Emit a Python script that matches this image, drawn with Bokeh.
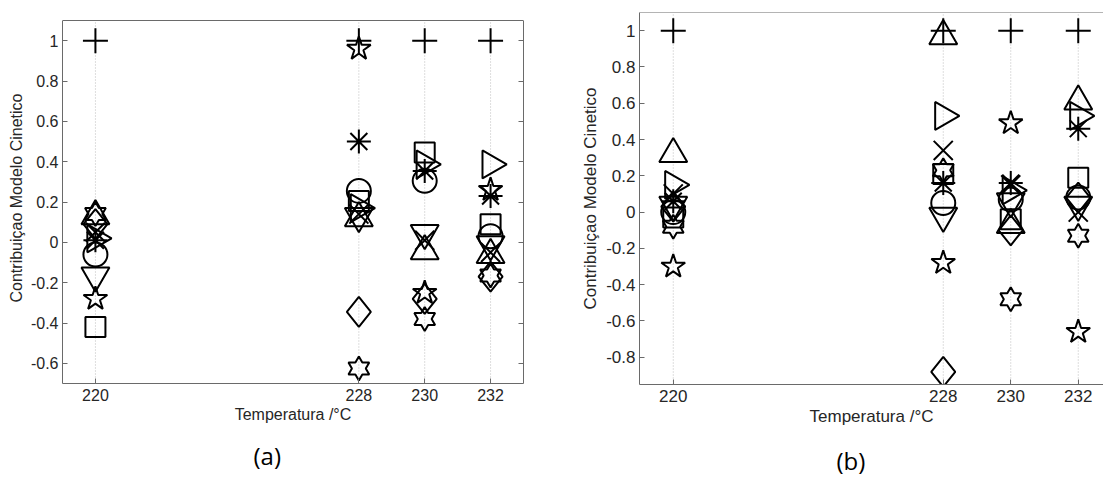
import math

from bokeh.embed import file_html
from bokeh.layouts import row
from bokeh.models import FixedTicker, LinearAxis, Range1d, Span, Title
from bokeh.plotting import figure
from bokeh.resources import INLINE

# ---------------------------------------------------------------- data
temperatures = [220, 228, 230, 232]
x_ticks = [220, 228, 230, 232]

# panel (a)
plus_a = [1.0, 1.0, 1.0, 1.0]
circle_a = [-0.06, 0.255, 0.305, 0.03]
asterisk_a = [0.01, 0.50, 0.354, 0.23]
x_mark_a = [0.05, 0.14, 0.01, -0.05]
square_a = [-0.42, 0.205, 0.445, 0.09]
diamond_a = [0.09, -0.345, -0.28, -0.17]
tri_up_a = [0.13, 0.12, -0.044, -0.063]
tri_down_a = [-0.165, 0.13, 0.046, -0.01]
tri_right_a = [0.02, 0.17, 0.386, 0.386]
pentagram_a = [-0.28, 0.96, -0.25, 0.26]
hexagram_a = [0.14, -0.625, -0.38, -0.165]

y_ticks_a = [-0.6, -0.4, -0.2, 0, 0.2, 0.4, 0.6, 0.8, 1]
y_labels_a = ["-0.6", "-0.4", "-0.2", "0", "0.2", "0.4", "0.6", "0.8", "1"]

# panel (b)
plus_b = [1.0, 1.0, 1.0, 1.0]
circle_b = [0.0, 0.05, 0.07, 0.08]
asterisk_b = [0.06, 0.16, 0.16, 0.46]
x_mark_b = [0.10, 0.34, 0.15, 0.0]
square_b = [-0.03, 0.21, -0.04, 0.19]
diamond_b = [0.03, -0.88, -0.10, 0.08]
tri_up_b = [0.32, 0.97, -0.07, 0.61]
tri_down_b = [0.04, -0.02, 0.06, 0.04]
tri_right_b = [0.15, 0.53, 0.12, 0.53]
pentagram_b = [-0.30, -0.28, 0.49, -0.66]
hexagram_b = [-0.08, 0.23, -0.48, -0.13]

y_ticks_b = [-0.8, -0.6, -0.4, -0.2, 0, 0.2, 0.4, 0.6, 0.8, 1]
y_labels_b = ["-0.8", "-0.6", "-0.4", "-0.2", "0", "0.2", "0.4", "0.6", "0.8", "1"]

# ---------------------------------------------------------------- style
FONT = "Liberation Sans"
CAPTION_FONT = "Open Sans"
AXIS_GRAY = "#6a6a6a"
GRID_GRAY = "#bcbcbc"
TEXT = "#262626"
INK = "black"
LW = 2
BOX_TOP = 1.1          # upper edge of both axes boxes


def polygon_marker(xc, yc, sx, sy, radii, start=math.pi / 2):
    """Outline of a marker centred on (xc, yc); radii are in screen pixels."""
    n = len(radii)
    xs, ys = [], []
    for k, r in enumerate(radii):
        t = start + 2 * math.pi * k / n
        xs.append(xc + r * math.cos(t) / sx)
        ys.append(yc + r * math.sin(t) / sy)
    return xs, ys


def style_axis(ax, font_px):
    ax.axis_line_color = AXIS_GRAY
    ax.major_tick_line_color = AXIS_GRAY
    ax.major_tick_in = 5
    ax.major_tick_out = 0
    ax.minor_tick_line_color = None
    ax.major_label_text_font = FONT
    ax.major_label_text_font_size = f"{font_px}px"
    ax.major_label_text_color = TEXT
    ax.axis_label_text_font = FONT
    ax.axis_label_text_font_size = f"{font_px}px"
    ax.axis_label_text_font_style = "normal"
    ax.axis_label_text_color = TEXT


def panel(series, y_ticks, y_labels, x_rng, y_rng, frame_w, frame_h,
          borders, caption, caption_left, caption_gap, font_px, boxed):
    left, right, top, bottom = borders
    p = figure(
        title=None,
        frame_width=frame_w,
        frame_height=frame_h,
        x_range=Range1d(*x_rng),
        y_range=Range1d(*y_rng),
        min_border_left=left,
        min_border_right=right,
        min_border_top=top,
        min_border_bottom=bottom,
        output_backend="svg",
        toolbar_location=None,
        x_axis_label="Temperatura /°C",
        y_axis_label="Contribuiçao Modelo Cinetico",
        background_fill_color="white",
        border_fill_color="white",
    )
    p.outline_line_color = None

    for ax in list(p.xaxis) + list(p.yaxis):
        style_axis(ax, font_px)
    p.xaxis.ticker = FixedTicker(ticks=x_ticks)
    p.yaxis.ticker = FixedTicker(ticks=y_ticks)
    p.yaxis.major_label_overrides = dict(zip(y_ticks, y_labels))
    p.yaxis.bounds = (y_rng[0], BOX_TOP)
    p.xaxis.major_label_standoff = 5
    p.xaxis.axis_label_standoff = 2
    p.yaxis.major_label_standoff = 4
    p.yaxis.axis_label_standoff = 3

    # dotted vertical guides at the temperatures, up to the top of the box
    p.xgrid.grid_line_color = None
    p.ygrid.grid_line_color = None
    p.segment(x0=x_ticks, y0=[y_rng[0]] * len(x_ticks),
              x1=x_ticks, y1=[BOX_TOP] * len(x_ticks),
              line_color=GRID_GRAY, line_dash="1 2", line_width=1)

    # top edge of the box
    p.add_layout(Span(location=BOX_TOP, dimension="width",
                      line_color=AXIS_GRAY, line_width=1))
    if boxed:
        # closed on the right, with inward ticks
        p.add_layout(LinearAxis(
            ticker=FixedTicker(ticks=y_ticks),
            bounds=(y_rng[0], BOX_TOP),
            axis_line_color=AXIS_GRAY,
            major_tick_line_color=AXIS_GRAY,
            major_tick_in=5,
            major_tick_out=0,
            minor_tick_line_color=None,
            major_label_text_color=None,
            major_label_text_font_size="1px",
            major_label_standoff=0,
        ), "right")

    sx = frame_w / (x_rng[1] - x_rng[0])
    sy = frame_h / (y_rng[1] - y_rng[0])

    common = dict(fill_color=None, line_color=INK, line_width=LW)
    p.scatter(temperatures, series["plus"], marker="cross", size=25, **common)
    p.scatter(temperatures, series["circle"], marker="circle", size=24, **common)
    p.scatter(temperatures, series["asterisk"], marker="asterisk", size=24, **common)
    p.scatter(temperatures, series["x"], marker="x", size=27, **common)
    p.scatter(temperatures, series["square"], marker="square", size=20, **common)
    p.scatter(temperatures, series["tri_up"], marker="triangle", size=28, **common)
    p.scatter(temperatures, series["tri_down"], marker="inverted_triangle", size=28, **common)
    p.scatter(temperatures, series["tri_right"], marker="triangle", size=28,
              angle=-math.pi / 2, **common)
    p.scatter(temperatures, series["pentagram"], marker="star", size=25, **common)

    hex_radii = [12, 12 / math.sqrt(3)] * 6
    dia_radii = [15, 12, 15, 12]
    hx, hy, dx, dy = [], [], [], []
    for t, v in zip(temperatures, series["hexagram"]):
        xs, ys = polygon_marker(t, v, sx, sy, hex_radii)
        hx.append(xs)
        hy.append(ys)
    for t, v in zip(temperatures, series["diamond"]):
        xs, ys = polygon_marker(t, v, sx, sy, dia_radii)
        dx.append(xs)
        dy.append(ys)
    p.patches(hx, hy, **common)
    p.patches(dx, dy, **common)

    p.add_layout(Title(
        text=caption, text_font=CAPTION_FONT, text_font_size="24px",
        text_font_style="normal", text_color=INK, align="left",
        offset=caption_left, standoff=caption_gap,
    ), "below")
    return p


series_a = dict(plus=plus_a, circle=circle_a, asterisk=asterisk_a, x=x_mark_a,
                square=square_a, diamond=diamond_a, tri_up=tri_up_a,
                tri_down=tri_down_a, tri_right=tri_right_a,
                pentagram=pentagram_a, hexagram=hexagram_a)
series_b = dict(plus=plus_b, circle=circle_b, asterisk=asterisk_b, x=x_mark_b,
                square=square_b, diamond=diamond_b, tri_up=tri_up_b,
                tri_down=tri_down_b, tri_right=tri_right_b,
                pentagram=pentagram_b, hexagram=hexagram_b)

# both frames start 12 px from the top; panel (a) keeps 8 px of headroom
# above its box so the two boxes sit at their own heights
frame_h_a = 371
y_rng_a = (-0.7, BOX_TOP + 8 * 1.8 / 363)

fig_a = panel(series_a, y_ticks_a, y_labels_a, (219, 233), y_rng_a,
              461, frame_h_a, (62, 52, 12, 101), "(a)", 191, 22, 16, True)
fig_b = panel(series_b, y_ticks_b, y_labels_b, (219, 219 + 464 / 33.75), (-0.95, BOX_TOP),
              464, 372, (64, 0, 12, 100), "(b)", 197, 27, 17, False)

layout = row(fig_a, fig_b, spacing=0)

with open("out.html", "w") as f:
    f.write(file_html(layout, INLINE))
